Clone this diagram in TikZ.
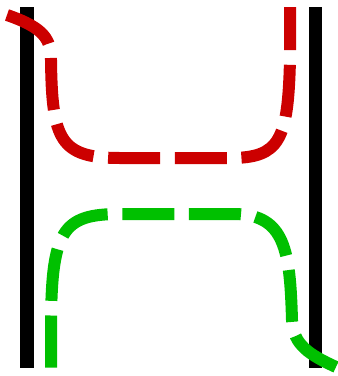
\documentclass[tikz,border=0pt]{standalone}
\definecolor{strandred}{RGB}{204,0,0}
\definecolor{strandgreen}{RGB}{0,192,0}
\begin{document}
\begin{tikzpicture}[x=0.75pt,y=-0.75pt,
  wall/.style={line width=9.75pt,black},
  strand/.style={line width=9pt,dash pattern=on 39pt off 11pt}]
\useasboundingbox (0,0) rectangle (338,376);
\coordinate (l1) at (27,7);
\coordinate (l2) at (27,368);
\coordinate (r1) at (315,7);
\coordinate (r2) at (315,368);
\draw[wall] (l1)--(l2);
\draw[wall] (r1)--(r2);
% upper strand
\draw[strand,strandred] (7,15) .. controls (45,28) and (51,40) .. (51,60)
  .. controls (52,140) and (60,158) .. (120,158) -- (230,158)
  .. controls (280,158) and (288,140) .. (290,60) -- (290,7);
% lower strand
\draw[strand,strandgreen] (336,367) .. controls (310,355) and (293,345) .. (292,320)
  .. controls (290,250) and (285,215) .. (235,214) -- (120,214)
  .. controls (62,214) and (51,230) .. (51,330) -- (51,370);
\end{tikzpicture}
\end{document}
